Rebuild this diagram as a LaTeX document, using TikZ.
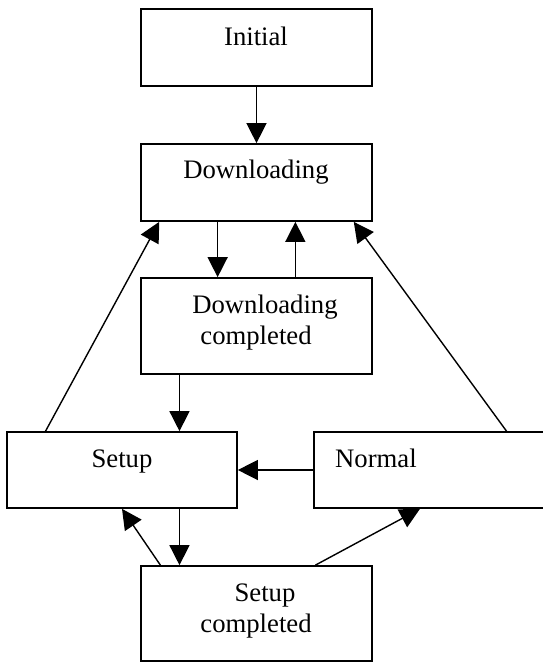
\documentclass[tikz,border=0pt]{standalone}
\usepackage{fontspec}
\setmainfont{Liberation Serif}
\usetikzlibrary{arrows.meta,calc}

\begin{document}
\begin{tikzpicture}[x=1pt,y=-1pt,>={Triangle[length=20pt,width=20pt]},
  box/.style={draw,line width=1.7pt,inner sep=0pt,minimum width=231pt},
  lbl/.style={anchor=base,inner sep=0pt,align=center,
    font=\fontsize{26.7pt}{31pt}\selectfont},
  arr/.style={->,line width=1.4pt}]
  \useasboundingbox (0,0) rectangle (542,662);

  % ================= 状态框 =================
  \node[box,minimum height=77pt] (init) at (256.5,47.5) {};
  \node[box,minimum height=77pt] (down) at (256.5,182.5) {};
  \node[box,minimum height=96pt] (dcomp) at (256.5,326) {};
  \node[box,minimum width=230pt,minimum height=76pt] (setup) at (122,470) {};
  \node[box,minimum height=76pt] (normal) at (429.5,470) {};
  \node[box,minimum height=95pt] (scomp) at (256.5,613.5) {};

  % ================= 文字（两行时 base 为末行） =================
  \node[lbl] (tinit) at (256,45) {Initial};
  \node[lbl] (tdown) at (256,178) {Downloading};
  \node[lbl] (tdcomp) at (256,344) {\hspace*{18pt}Downloading\\completed};
  \node[lbl] (tsetup) at (122,467) {Setup};
  \node[lbl,anchor=base west] (tnormal) at (335,467) {Normal};
  \node[lbl] (tscomp) at (256,632) {\hspace*{18pt}Setup\\completed};

  % ================= 转移 =================
  \coordinate (d1) at ($(dcomp.south west)!.169!(dcomp.south east)$);
  \coordinate (s1) at ($(scomp.north west)!.169!(scomp.north east)$);
  \draw[arr] (init) -- (down);
  \draw[arr] ($(down.south west)!.333!(down.south east)$) -- ($(dcomp.north west)!.333!(dcomp.north east)$);
  \draw[arr] ($(dcomp.north west)!.667!(dcomp.north east)$) -- ($(down.south west)!.667!(down.south east)$);
  \draw[arr] (d1) -- (d1 |- setup.north);
  \draw[arr] (s1 |- setup.south) -- (s1);
  \draw[arr] (normal) -- (setup);
  \draw[arr] ($(scomp.north west)!.087!(scomp.north east)$) -- (setup.south);
  \draw[arr] ($(scomp.north west)!.753!(scomp.north east)$) -- ($(normal.south west)!.459!(normal.south east)$);
  \draw[arr] ($(setup.north west)!.17!(setup.north east)$) -- ($(down.south west)!.082!(down.south east)$);
  \draw[arr] ($(normal.north west)!.831!(normal.north east)$) -- ($(down.south west)!.918!(down.south east)$);
\end{tikzpicture}
\end{document}
